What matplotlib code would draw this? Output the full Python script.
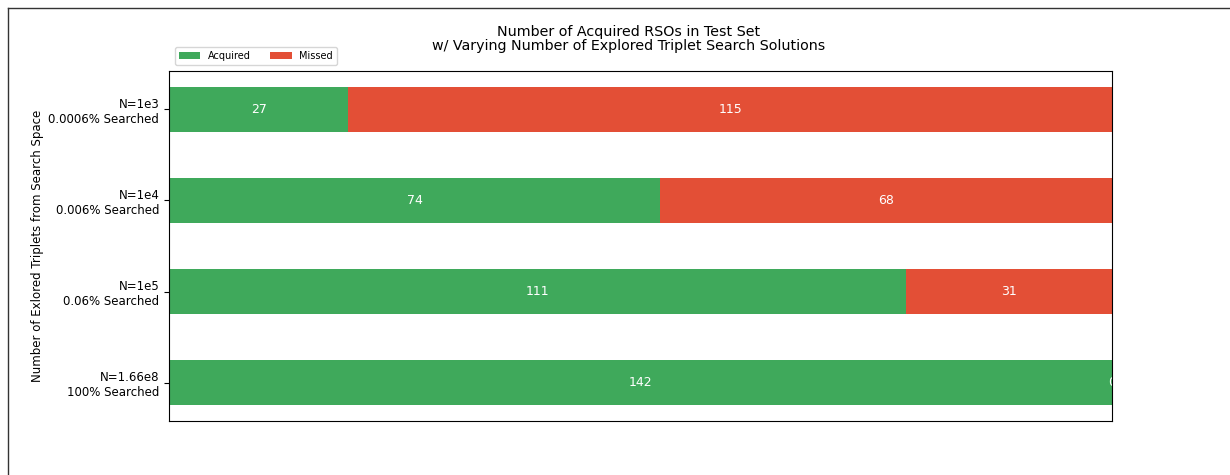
import numpy as np
import matplotlib.pyplot as plt
from matplotlib.lines import Line2D

labels = ['N=1e3\n0.0006% Searched', 'N=1e4\n0.006% Searched',
          'N=1e5\n0.06% Searched', 'N=1.66e8\n100% Searched']
acquired = [27, 74, 111, 142]
missed = [115, 68, 31, 0]

green = '#3fa95b'
red = '#e34f36'

fig = plt.figure(figsize=(12.3, 4.75), dpi=100)
ax = fig.add_axes([0.1374, 0.1137, 0.7667, 0.7368])

y = np.arange(len(labels))
ax.barh(y, acquired, height=0.5, color=green, label='Acquired')
ax.barh(y, missed, height=0.5, left=acquired, color=red, label='Missed')

for i in range(len(labels)):
    ax.text(acquired[i] / 2, y[i], str(acquired[i]), color='white',
            ha='center', va='center', fontsize=9, clip_on=True)
    ax.text(acquired[i] + missed[i] / 2, y[i], str(missed[i]), color='white',
            ha='center', va='center', fontsize=9, clip_on=True)

ax.set_xlim(0, 142)
ax.set_ylim(3.42, -0.42)
ax.set_yticks(y)
ax.set_yticklabels(labels, fontsize=8.5)
ax.set_xticks([])
ax.set_ylabel('Number of Exlored Triplets from Search Space', fontsize=8.5, labelpad=3)
ax.set_title('Number of Acquired RSOs in Test Set\nw/ Varying Number of Explored Triplet Search Solutions',
             fontsize=10.3, pad=15, linespacing=1.05, x=0.487)
ax.legend(loc='lower left', bbox_to_anchor=(0.0, 1.0), ncol=2, fontsize=7,
          borderaxespad=0.6, handlelength=2.2, columnspacing=2.0)

# frame of the screenshot
fig.add_artist(Line2D([8 / 1230, 8 / 1230], [0, 1 - 8 / 475], transform=fig.transFigure,
                      color='#333333', lw=1))
fig.add_artist(Line2D([8 / 1230, 1], [1 - 8 / 475, 1 - 8 / 475], transform=fig.transFigure,
                      color='#333333', lw=1))

fig.savefig('out.png', dpi=100)
